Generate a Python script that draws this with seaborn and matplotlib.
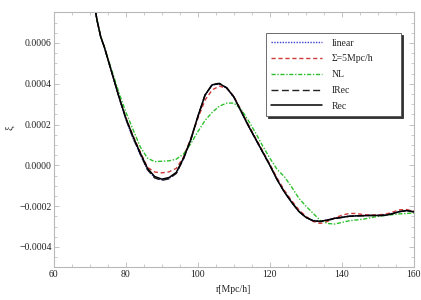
"""Correlation function near the BAO peak: linear, smoothed, NL and reconstructed."""

import matplotlib
matplotlib.use("Agg")
import matplotlib.pyplot as plt
from matplotlib.ticker import MultipleLocator, FuncFormatter
import numpy as np
import seaborn as sns

# separation r in Mpc/h
r = [71.5, 72, 73, 74, 75, 76, 78, 80, 82, 84, 86, 88, 90, 92, 94, 96, 98,
     100, 102, 104, 106, 108, 110, 112, 114, 116, 118, 120, 122, 124, 126,
     128, 130, 132, 134, 136, 138, 140, 142, 144, 146, 148, 150, 152, 154,
     156, 158, 160]

# xi values in units of 1e-4
xi_rec = [7.6, 7.1, 6.3, 5.8, 5.2, 4.6, 3.4, 2.3, 1.4, 0.6, -0.15, -0.55,
          -0.68, -0.6, -0.35, 0.35, 1.25, 2.4, 3.45, 3.95, 4.0, 3.8, 3.35,
          2.65, 1.95, 1.3, 0.65, 0.0, -0.7, -1.3, -1.8, -2.25, -2.55, -2.72,
          -2.75, -2.68, -2.6, -2.55, -2.5, -2.48, -2.47, -2.46, -2.46, -2.45,
          -2.38, -2.27, -2.22, -2.28]
xi_irec = [7.6, 7.1, 6.3, 5.8, 5.2, 4.6, 3.4, 2.28, 1.35, 0.55, -0.22, -0.62,
           -0.74, -0.66, -0.4, 0.3, 1.22, 2.38, 3.45, 3.97, 4.02, 3.8, 3.35,
           2.65, 1.95, 1.3, 0.65, 0.0, -0.7, -1.3, -1.8, -2.25, -2.55, -2.72,
           -2.76, -2.7, -2.62, -2.56, -2.5, -2.48, -2.47, -2.46, -2.47,
           -2.45, -2.37, -2.27, -2.23, -2.28]
xi_linear = [7.6, 7.1, 6.3, 5.8, 5.2, 4.6, 3.38, 2.25, 1.32, 0.52, -0.22,
             -0.6, -0.72, -0.64, -0.38, 0.32, 1.24, 2.38, 3.43, 3.94, 3.98,
             3.78, 3.33, 2.64, 1.94, 1.29, 0.64, -0.01, -0.7, -1.3, -1.8,
             -2.25, -2.55, -2.7, -2.74, -2.68, -2.6, -2.54, -2.49, -2.47,
             -2.46, -2.45, -2.44, -2.42, -2.36, -2.26, -2.22, -2.27]
xi_sigma5 = [7.6, 7.1, 6.32, 5.82, 5.22, 4.62, 3.42, 2.33, 1.45, 0.65, -0.1,
             -0.33, -0.37, -0.32, -0.15, 0.4, 1.3, 2.3, 3.2, 3.7, 3.88, 3.78,
             3.38, 2.7, 2.0, 1.35, 0.7, 0.05, -0.62, -1.22, -1.72, -2.17,
             -2.5, -2.75, -2.85, -2.75, -2.58, -2.45, -2.36, -2.36, -2.42,
             -2.44, -2.43, -2.4, -2.3, -2.18, -2.17, -2.25]
xi_nl = [7.6, 7.1, 6.32, 5.82, 5.25, 4.7, 3.6, 2.6, 1.75, 0.9, 0.35, 0.18,
         0.2, 0.22, 0.3, 0.55, 1.05, 1.65, 2.2, 2.6, 2.9, 3.05, 3.05, 2.75,
         2.2, 1.6, 0.95, 0.35, -0.2, -0.55, -1.05, -1.6, -2.0, -2.35, -2.7,
         -2.85, -2.88, -2.8, -2.72, -2.68, -2.64, -2.57, -2.5, -2.46, -2.42,
         -2.38, -2.36, -2.34]

series = [
    ("linear", xi_linear, "#3a3ad0", (0, (1, 1))),
    ("\u03a3=5Mpc/h", xi_sigma5, "#d03a3a", (0, (3, 2))),
    ("NL", xi_nl, "#2ec02e", (0, (3, 1.2, 1, 1.2))),
    ("IRec", xi_irec, "#222222", (0, (5, 2.5))),
    ("Rec", xi_rec, "#000000", "-"),
]

sns.set_style("ticks")
plt.rcParams["font.family"] = ["Liberation Serif", "DejaVu Serif"]

fig = plt.figure(figsize=(4.21, 3.0), dpi=100)
ax = fig.add_axes([0.128, 0.109, 0.855, 0.850])

r_arr = np.array(r)
for label, vals, color, ls in series:
    sns.lineplot(x=r_arr, y=np.array(vals) * 1e-4, ax=ax, color=color,
                 linestyle=ls, linewidth=1.0 if label != "Rec" else 1.1,
                 label=label, sort=False)

ax.set_xlim(60, 160)
ax.set_ylim(-0.0005, 0.00075)
ax.xaxis.set_major_locator(MultipleLocator(20))
ax.xaxis.set_minor_locator(MultipleLocator(5))
ax.yaxis.set_major_locator(MultipleLocator(0.0002))
ax.yaxis.set_minor_locator(MultipleLocator(0.00005))
ax.yaxis.set_major_formatter(
    FuncFormatter(lambda v, p: f"{v:.4f}".replace("-", "\u2212")
                  if abs(v) > 1e-12 else "0.0000"))

frame = "#b8b8b8"
for sp in ax.spines.values():
    sp.set_color(frame)
    sp.set_linewidth(0.8)
ax.tick_params(which="both", direction="in", top=True, right=True,
               color=frame, labelsize=7, labelcolor="#222222")
ax.tick_params(which="major", length=3.5, width=0.6)
ax.tick_params(which="minor", length=2, width=0.5)
ax.tick_params(axis="x", pad=2)
ax.tick_params(axis="y", pad=1.5)

ax.set_xlabel("r[Mpc/h]", fontsize=7)
ax.xaxis.set_label_coords(0.5, -0.07)
ax.set_ylabel("\u03be", fontsize=7.5)
ax.yaxis.set_label_coords(-0.11, 0.546)

leg = ax.legend(loc="upper left", bbox_to_anchor=(0.589, 0.598, 0.375, 0.32),
                mode="expand", fontsize=7, handlelength=5.2,
                handletextpad=1.0, labelspacing=0.7, borderpad=0.55,
                frameon=True, fancybox=False,
                shadow={"ox": 1.5, "oy": -1.5, "color": "#303030", "alpha": 1},
                edgecolor="#555555", borderaxespad=0)
leg.get_frame().set_linewidth(0.6)

fig.savefig("out.png", dpi=100)
